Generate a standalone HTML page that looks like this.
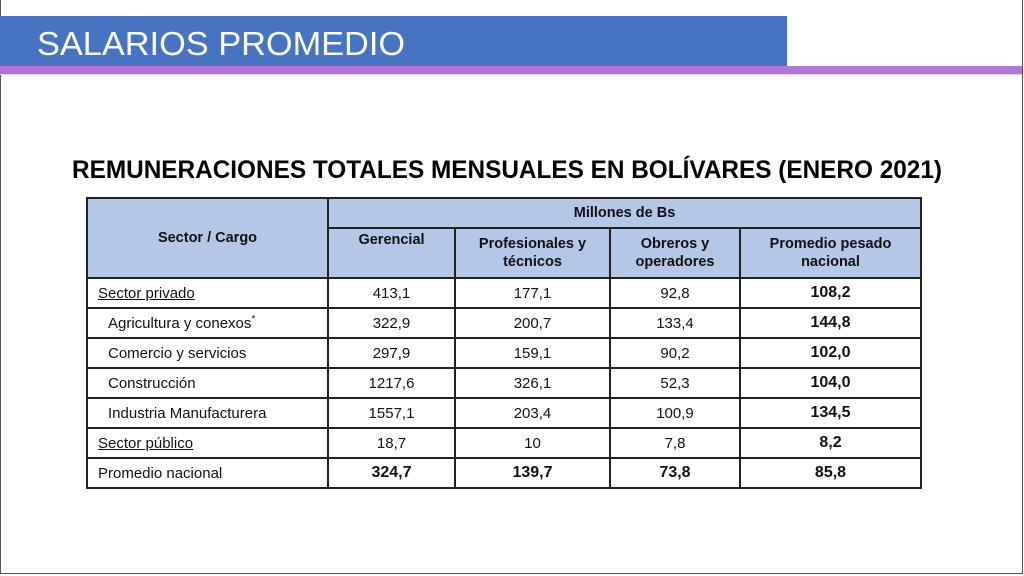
<!DOCTYPE html>
<html><head><meta charset="utf-8"><style>
html,body{margin:0;padding:0}
body{width:1024px;height:576px;position:relative;overflow:hidden;background:#fff;font-family:"Liberation Sans",sans-serif}
.frame{position:absolute;left:0;top:0;width:1021px;height:573px;border:1.5px solid #555;border-top:none}
.banner{position:absolute;left:0;top:16px;width:787px;height:50px;background:#4674c3}
.banner span{position:absolute;left:37px;top:9px;color:#fff;font-size:33px;white-space:nowrap;display:inline-block;transform-origin:0 0;transform:scaleX(1.04)}
.stripe{position:absolute;left:0;top:66px;width:1022px;height:8px;background:#b077d8}
.stripe2{position:absolute;left:0;top:74px;width:1022px;height:1px;background:#e6d4f2}
.title{position:absolute;left:72px;top:156px;width:870px;height:34px;overflow:visible}
.title span{display:inline-block;white-space:nowrap;font-weight:bold;font-size:25px;transform-origin:0 0;transform:scaleX(0.82)}
table{position:absolute;left:86px;top:197px;border-collapse:collapse;table-layout:fixed;font-size:15px;color:#111}
td{border:2px solid #222;padding:0;height:28px;text-align:center;vertical-align:middle;white-space:nowrap;overflow:hidden}
.h{background:#b4c7e7;font-weight:bold;font-size:14.5px;line-height:18px}
.b{font-weight:bold;font-size:16px}
.l{text-align:left;padding-left:10px}
.i{text-align:left;padding-left:20px}
u{text-decoration:underline}
</style></head><body>
<div class="frame"></div>
<div class="banner"><span>SALARIOS PROMEDIO</span></div>
<div class="stripe"></div><div class="stripe2"></div>
<div class="title"><span id="t">REMUNERACIONES TOTALES MENSUALES EN BOLÍVARES (ENERO 2021)</span></div>
<table>
<colgroup><col style="width:241px"><col style="width:127px"><col style="width:155px"><col style="width:130px"><col style="width:181px"></colgroup>
<tr><td class="h" rowspan="2" style="height:76px">Sector / Cargo</td><td class="h" colspan="4" style="height:28px">Millones de Bs</td></tr>
<tr><td class="h" style="height:46px;vertical-align:top;padding-top:2px">Gerencial</td><td class="h">Profesionales y<br>técnicos</td><td class="h">Obreros y<br>operadores</td><td class="h">Promedio pesado<br>nacional</td></tr>
<tr><td class="l"><u>Sector privado</u></td><td>413,1</td><td>177,1</td><td>92,8</td><td class="b">108,2</td></tr>
<tr><td class="i">Agricultura y conexos<sup style="font-size:10px">*</sup></td><td>322,9</td><td>200,7</td><td>133,4</td><td class="b">144,8</td></tr>
<tr><td class="i">Comercio y servicios</td><td>297,9</td><td>159,1</td><td>90,2</td><td class="b">102,0</td></tr>
<tr><td class="i">Construcción</td><td>1217,6</td><td>326,1</td><td>52,3</td><td class="b">104,0</td></tr>
<tr><td class="i">Industria Manufacturera</td><td>1557,1</td><td>203,4</td><td>100,9</td><td class="b">134,5</td></tr>
<tr><td class="l"><u>Sector público</u></td><td>18,7</td><td>10</td><td>7,8</td><td class="b">8,2</td></tr>
<tr><td class="l">Promedio nacional</td><td class="b">324,7</td><td class="b">139,7</td><td class="b">73,8</td><td class="b">85,8</td></tr>
</table>
<script>
var t=document.getElementById('t');var w=t.getBoundingClientRect().width/0.82;t.style.transform='scaleX('+(870/w)+')';
</script>
</body></html>
